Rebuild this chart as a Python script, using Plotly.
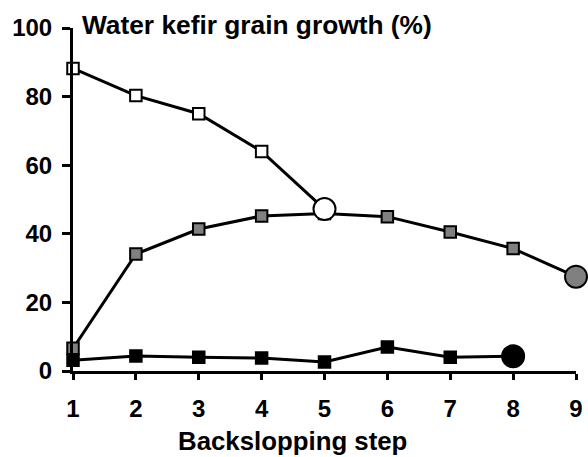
import plotly.graph_objects as go

steps = [1, 2, 3, 4, 5, 6, 7, 8, 9]

# Growth (%) per backslopping step for three water kefir grain series
open_series = [88.2, 80.3, 75.0, 64.0, 47.2]
grey_series = [6.6, 34.1, 41.4, 45.2, 45.9, 45.0, 40.5, 35.7, 27.5]
black_series = [3.1, 4.4, 4.0, 3.8, 2.6, 7.0, 4.0, 4.3]

y_ticks = [0, 20, 40, 60, 80, 100]

def markers(n, color):
    # squares along the series, a large circle on the final step
    symbols = ["square"] * n
    sizes = [11.5] * n
    symbols[-1] = "circle"
    sizes[-1] = 22
    return dict(symbol=symbols, size=sizes, color=color, opacity=1,
                line=dict(color="black", width=2))

fig = go.Figure()

for series, fill in [(grey_series, "#808080"), (black_series, "black"),
                     (open_series, "white")]:
    fig.add_trace(go.Scatter(
        x=steps[:len(series)], y=series, mode="lines+markers",
        line=dict(color="black", width=3),
        marker=markers(len(series), fill),
        cliponaxis=False, showlegend=False))

font_family = "Liberation Sans, Arial, sans-serif"

fig.update_layout(
    width=588, height=457,
    margin=dict(l=73, r=12, t=28, b=86),
    paper_bgcolor="white", plot_bgcolor="white",
    font=dict(family=font_family, color="black"),
    xaxis=dict(
        range=[1, 9], tickvals=steps, ticktext=[str(s) for s in steps],
        automargin="bottom",
        showgrid=False, zeroline=False,
        showline=True, linecolor="black", linewidth=3,
        ticks="outside", ticklen=6, tickwidth=3, tickcolor="black",
        ticklabelstandoff=8,
        tickfont=dict(size=24, family=font_family, weight="bold"),
    ),
    yaxis=dict(
        range=[0, 100], tickvals=y_ticks,
        automargin=False,
        showgrid=False, zeroline=False,
        showline=True, linecolor="black", linewidth=3,
        ticks="outside", ticklen=8, tickwidth=3, tickcolor="black",
        ticklabelstandoff=5,
        tickfont=dict(size=24, family=font_family, weight="bold"),
    ),
    annotations=[
        dict(text="<b>Water kefir grain growth (%)</b>",
             xref="paper", yref="paper", x=0.013, y=1.01,
             xanchor="left", yanchor="middle", showarrow=False,
             font=dict(size=26.3, family=font_family, color="black")),
        dict(text="<b>Backslopping step</b>",
             xref="paper", yref="paper", x=0.437, y=-0.203,
             xanchor="center", yanchor="middle", showarrow=False,
             font=dict(size=25.8, family=font_family, color="black")),
    ],
)

fig.write_html("out.html")
